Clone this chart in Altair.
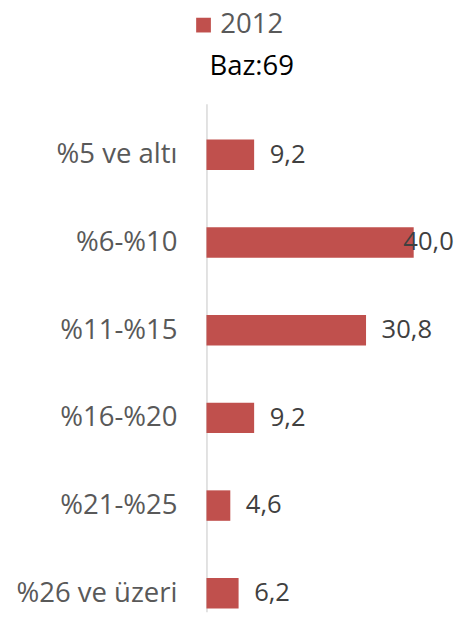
import json
import altair as alt
import pandas as pd

categories = ["%5 ve altı", "%6-%10", "%11-%15", "%16-%20", "%21-%25", "%26 ve üzeri"]
values = [9.2, 40.0, 30.8, 9.2, 4.6, 6.2]
value_labels = ["9,2", "40,0", "30,8", "9,2", "4,6", "6,2"]
series_name = "2012"
subtitle = "Baz:69"

df = pd.DataFrame({
    "idx": list(range(len(categories))),
    "cat": categories,
    "value": values,
    "label": value_labels,
    "series": [series_name] * len(categories),
})

FONT = "Open Sans"
label_expr = json.dumps(categories, ensure_ascii=False) + "[datum.value]"

yenc = alt.Y(
    "idx:Q",
    scale=alt.Scale(domain=[-0.527, 5.154], reverse=True, nice=False, zero=False),
    axis=alt.Axis(
        values=list(range(len(categories))),
        labelExpr=label_expr,
        ticks=False,
        grid=False,
        labelPadding=30,
        labelFontSize=28,
        labelFont=FONT,
        labelColor="#595959",
        labelAlign="right",
        labelBaseline="middle",
        domainColor="#d9d9d9",
        domainWidth=1.5,
        title=None,
    ),
)

xscale = alt.Scale(domain=[0, 44], nice=False, zero=True)

bars = alt.Chart(df).mark_bar(orient="horizontal", size=31).encode(
    x=alt.X("value:Q", scale=xscale, axis=None),
    y=yenc,
    color=alt.Color(
        "series:N",
        scale=alt.Scale(range=["#c0504d"]),
        legend=alt.Legend(
            orient="none",
            legendX=-17,
            legendY=-94,
            title=None,
            symbolType="square",
            symbolSize=225,
            symbolStrokeWidth=0,
            labelFontSize=28,
            labelFont=FONT,
            labelColor="#595959",
            labelOffset=3,
        ),
    ),
)

text = alt.Chart(df).transform_calculate(
    lx="min(datum.value + 3, 38)"
).mark_text(align="left", baseline="middle", fontSize=26, font=FONT, color="#404040").encode(
    x=alt.X("lx:Q", scale=xscale, axis=None),
    y=alt.Y("idx:Q"),
    text="label:N",
)

chart = alt.layer(bars, text).properties(
    width=232,
    height=517,
    title=alt.Title(
        subtitle,
        fontSize=28,
        font=FONT,
        fontWeight="normal",
        color="black",
        anchor="start",
        frame="group",
        dx=3,
        dy=93,
        offset=0,
        baseline="alphabetic",
    ),
    padding={"left": 202, "top": 92, "right": 24, "bottom": 0},
    autosize=alt.AutoSizeParams(type="none"),
).configure_view(stroke=None)

chart.save("out.html", embed_options={"renderer": "svg", "actions": False})
